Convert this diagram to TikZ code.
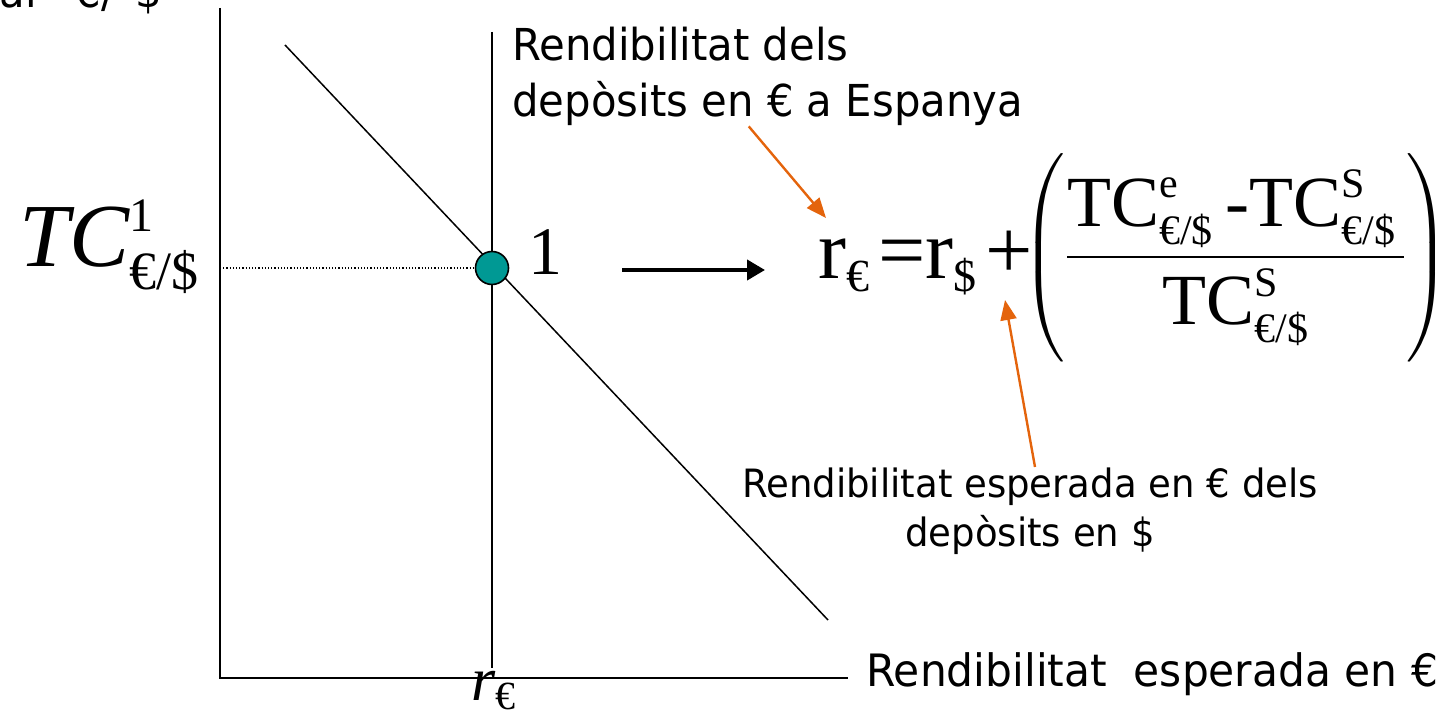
\RequirePackage{fix-cm}
\documentclass[tikz,border=0pt]{standalone}
\usepackage{fontspec}
\usepackage{amsmath}
\setmainfont{Liberation Serif}
\newfontfamily\tahoma[FakeStretch=0.95]{DejaVu Sans}
\usetikzlibrary{arrows.meta,positioning}
\definecolor{FillDot}{RGB}{0,153,148}
\definecolor{LineNote}{RGB}{228,100,12}
\newcommand{\scr}[2]{\hbox{\fontsize{#1}{#1}\selectfont #2}}

\begin{document}
\begin{tikzpicture}[x=0.5pt, y=-0.5pt,
            axis/.style={line width=1pt},
            demand/.style={line width=0.75pt},
            sans/.style={font=\tahoma\fontsize{22}{28}\selectfont, inner sep=0pt, align=left},
            note/.style={font=\tahoma\fontsize{19.5}{24.5}\selectfont, inner sep=0pt, align=center},
            serif/.style={inner sep=0pt},
            arr/.style={-{Triangle[length=9pt, width=10pt]}, line width=2pt},
            pointer/.style={-{Triangle[length=10pt, width=8pt]}, LineNote, line width=1.2pt}
        ]
            \useasboundingbox (0,0) rectangle (1456,710);
            % axes
            \coordinate (origin) at (220,678);
            \coordinate (ytop)   at (220,8);
            \coordinate (xend)   at (848,678);
            \draw[axis] (ytop) -- (origin) -- (xend);
            \node[sans, anchor=base west] (yname) at (-1,8) {al\hspace{19pt}€/\hspace{10pt}\$};
            \node[sans, font=\tahoma\fontsize{22.3}{28}\selectfont, anchor=base west] (xname) at (866,686) {Rendibilitat \ esperada en €};
            % curves
            \coordinate (vtop) at (492,32);
            \coordinate (vbot) at (492,668);
            \draw[demand] (vtop) -- (vbot);
            \coordinate (dtop) at (285,45);
            \coordinate (dbot) at (828,620);
            \draw[demand] (dtop) -- (dbot);
            \node[draw, circle, fill=FillDot, line width=0.8pt, minimum size=16.5pt, inner sep=0pt] (pt1) at (492,268) {};
            \draw[densely dotted, line width=0.6pt] (origin |- pt1) -- (pt1.west);
            \node[serif, font=\fontsize{34}{40}\selectfont, anchor=west] (lab1) at (528,252) {1};
            \node[serif, font=\fontsize{45}{50}\selectfont, anchor=base east] (tcone) at (200,267)
                {$\textit{TC}^{\scr{24}{1}}_{\scr{27}{€/\$}}$};
            \node[serif, font=\fontsize{31}{36}\selectfont, anchor=base] (reur) at (494,700) {$\textit{r}_{\scr{20}{€}}$};
            % labels
            \node[sans, anchor=north west] (depES) at (512,27) {Rendibilitat dels\\depòsits en € a Espanya};
            \node[note, anchor=north] (depUS) at (1030,467) {Rendibilitat esperada en € dels\\depòsits en \$};
            % formula
            \node[serif, font=\fontsize{42}{48}\selectfont, anchor=west] (eq) at (818,258)
                {$\text{r}_{\scr{23}{€}}\hspace{4pt}\text{=}\text{r}_{\scr{23}{\$}}\hspace{4pt}\text{+}\hspace{1pt}\mkern-6mu\left(\rule[-42pt]{0pt}{104pt}\vcenter{\hbox{\fontsize{36}{40}\selectfont$\displaystyle\frac{\text{TC}^{\scr{21}{e}}_{\scr{21}{€/\$}}\,\text{-TC}^{\scr{21}{S}}_{\scr{21}{€/\$}}\hspace{4pt}}{\text{TC}^{\scr{21}{S}}_{\scr{21}{€/\$}}}$}}\right)$};
            \coordinate (arrS) at (622,270);
            \coordinate (arrE) at (765,270);
            \draw[arr] (arrS) -- (arrE);
            \coordinate (tipES) at (826,218);
            \coordinate (tipUS) at (1005,300);
            \draw[pointer] ([xshift=-9.5pt]depES.south) -- (tipES);
            \draw[pointer] ([xshift=2.5pt]depUS.north) -- (tipUS);
        \end{tikzpicture}
\end{document}
